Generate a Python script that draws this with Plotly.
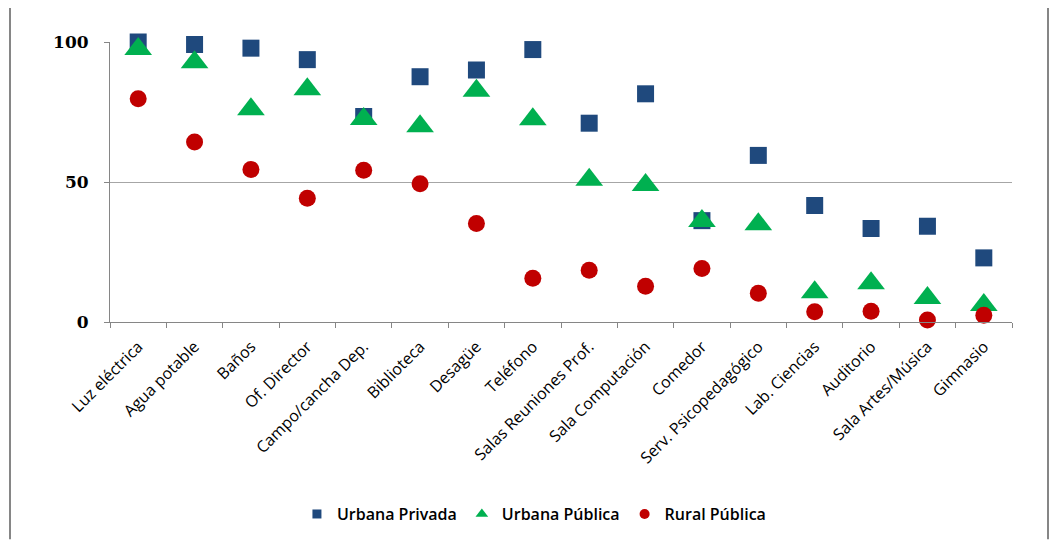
import plotly.graph_objects as go

categories = ["Luz eléctrica", "Agua potable", "Baños", "Of. Director", "Campo/cancha Dep.",
              "Biblioteca", "Desagüe", "Teléfono", "Salas Reuniones Prof.", "Sala Computación",
              "Comedor", "Serv. Psicopedagógico", "Lab. Ciencias", "Auditorio",
              "Sala Artes/Música", "Gimnasio"]
urbana_privada = [100, 99.1, 97.8, 93.7, 73.4, 87.6, 90.0, 97.3, 71.0, 81.5, 36.2, 59.5, 41.6, 33.4, 34.2, 22.9]
urbana_publica = [97.5, 92.8, 76.0, 83.1, 72.5, 69.9, 82.6, 72.4, 50.8, 48.9, 36.1, 34.9, 10.6, 13.8, 8.6, 6.1]
rural_publica = [79.7, 64.3, 54.5, 44.2, 54.2, 49.4, 35.2, 15.6, 18.5, 12.8, 19.1, 10.3, 3.7, 3.8, 0.7, 2.4]
series_names = ["Urbana Privada", "Urbana Pública", "Rural Pública"]
y_ticks = [0, 50, 100]

colors = ["#1F497D", "#00B050", "#C00000"]
symbols = ["square", "triangle-up", "circle"]
sizes = [17, 24, 17]
legend_sizes = [9, 11, 10]

fig = go.Figure()
for name, vals, c, s, sz in zip(series_names, [urbana_privada, urbana_publica, rural_publica],
                                colors, symbols, sizes):
    fig.add_trace(go.Scatter(x=categories, y=vals, mode="markers", name=name, showlegend=False,
                             marker=dict(symbol=s, size=sz, color=c), cliponaxis=False))
for name, c, s, sz in zip(series_names, colors, symbols, legend_sizes):
    fig.add_trace(go.Scatter(x=[None], y=[None], mode="markers", name=name,
                             marker=dict(symbol=s, size=sz, color=c)))

W, H = 1052, 534
L, T, B = 102, 34, 219
fig.update_layout(
    width=W, height=H,
    margin=dict(l=L, r=W - L - 902, t=T, b=B),
    paper_bgcolor="white", plot_bgcolor="white",
    showlegend=True,
    legend=dict(orientation="h", x=0.47, xanchor="center", y=-0.68, yanchor="middle",
                font=dict(family="Open Sans", size=16, color="#000000", weight=600),
                itemwidth=30),
    xaxis=dict(type="category", tickangle=-45, tickson="boundaries", ticks="outside",
               ticklen=5, tickcolor="#868686", showline=True, linecolor="#868686",
               linewidth=1, showgrid=False, range=[-0.5, 15.5],
               ticklabelstandoff=8,
               tickfont=dict(family="Open Sans", size=16, color="#000000")),
    yaxis=dict(range=[0, 100], tickvals=y_ticks, ticks="outside", ticklen=5,
               tickcolor="#868686", showline=True, linecolor="#868686", linewidth=1,
               showgrid=True, gridcolor="#A6A6A6", gridwidth=1, zeroline=False,
               ticklabelstandoff=12,
               tickfont=dict(family="DejaVu Serif", size=17, color="#000000", weight="bold")),
)

# outer chart border
fig.add_shape(type="line", xref="paper", yref="paper", x0=-100/902, x1=-100/902, y0=1.2, y1=-218/281,
              line=dict(color="#868686", width=2))
fig.add_shape(type="line", xref="paper", yref="paper", x0=(1040-102)/902, x1=(1040-102)/902,
              y0=1.2, y1=-218/281, line=dict(color="#868686", width=2))

fig.write_html("out.html")
